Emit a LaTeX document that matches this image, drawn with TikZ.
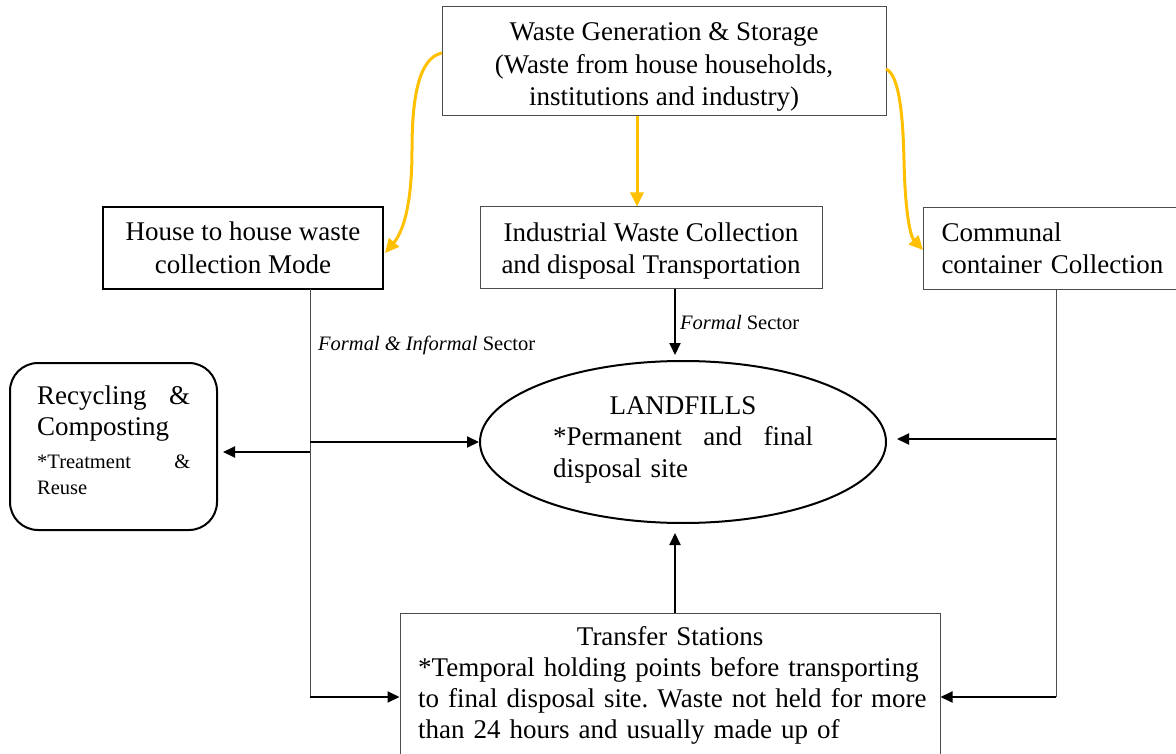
\documentclass[tikz,border=0pt]{standalone}
\usepackage{fontspec}
\setmainfont{Liberation Serif}
\usetikzlibrary{arrows.meta,shapes.geometric}
\definecolor{gold}{HTML}{FFC000}
\frenchspacing
\tikzset{
  bigf/.style={font=\fontsize{27}{32.5}\selectfont},
  smf/.style={font=\fontsize{20.5}{25}\selectfont},
  box/.style={draw=black!70, line width=1pt, bigf, inner sep=0pt, align=center},
  txt/.style={bigf, inner sep=0pt, align=center},
  thinline/.style={draw=black!70, line width=1pt},
  arr/.style={draw=black, line width=2pt, -{Triangle[length=12pt,width=11pt]}},
  yarr/.style={draw=gold, line width=3pt, -{Triangle[length=14pt,width=13pt]}},
}
\begin{document}
\begin{tikzpicture}[x=1pt,y=-1pt]
\path[use as bounding box] (0,0) rectangle (1176,754);

% boxes
\node[box, minimum width=444, minimum height=109] (gen) at (664,61.5) {};
\node[txt] (gent) at (664,67) {Waste Generation \& Storage\\(Waste from house households,\\institutions and industry)};
\node[box, draw=black, line width=2pt, minimum width=280, minimum height=82] (house) at (243,248)
  {House to house waste\\collection Mode};
\node[box, minimum width=342, minimum height=82] (ind) at (651,248) {};
\node[txt] (indt) at (651,251) {Industrial Waste Collection\\and disposal Transportation};
\node[box, anchor=north west, minimum height=82, text width=234, inner xsep=18, align=left] (comm) at (923,207)
  {Communal\\container Collection};

% recycling
\node[draw=black, line width=2pt, rounded corners=28pt, minimum width=207, minimum height=167, inner sep=0pt] (rec) at (113.5,446.5) {};
\node[anchor=north west, text width=153, inner sep=0pt, align=left] (rect) at (37,385.5)
  {{\fontsize{27}{31}\selectfont \leavevmode\hbox to 153pt{Recycling\hfill\&}\\Composting\par}\vspace{7pt}%
   {\fontsize{20.5}{26}\selectfont \leavevmode\hbox to 153pt{*Treatment\hfill\&}\\Reuse\par}};

% landfills
\node[ellipse, draw=black, line width=2pt, minimum width=406, minimum height=162, inner sep=0pt] (land) at (683,442) {};
\node[text width=260, inner sep=0pt, align=left, font=\fontsize{27}{31.5}\selectfont] (landt) at (683,439.5)
  {\leavevmode\hbox to 260pt{\hfill LANDFILLS\hfill}\\\leavevmode\hbox to 260pt{*Permanent\hfill and\hfill final}\\disposal site};

% transfer
\node[box, anchor=north, minimum width=540, minimum height=170] (trans) at (670,613) {};
\node[anchor=north west, text width=520, inner sep=0pt, align=left, font=\fontsize{27}{31}\selectfont] (transt) at (418,626.5)
  {\leavevmode\hbox to 504pt{\hfill Transfer Stations\hfill}\\{*}Temporal holding points before transporting\\to final disposal site. Waste not held for more\\than 24 hours and usually made up of};

% labels
\node[smf, anchor=west, inner sep=0pt] (lab1) at (318,345) {\textit{Formal \& Informal} Sector};
\node[smf, anchor=west, inner sep=0pt] (lab2) at (680,322) {\textit{Formal} Sector};

% coordinates
\coordinate (h1) at (310,289);
\coordinate (h2) at (310,697);
\coordinate (h3) at (310,442);
\coordinate (h4) at (310,452);
\coordinate (i1) at (675,289);
\coordinate (t1) at (675,613);
\coordinate (c1) at (1056,289);
\coordinate (c2) at (1056,697);
\coordinate (c3) at (1056,439);
\coordinate (g1) at (442,53);
\coordinate (g2) at (886,69);
\coordinate (g3) at (637,116);
\coordinate (hh) at (385,253);
\coordinate (cc) at (923,250);

% black connectors
\draw[thinline] (h1) -- (h2);
\draw[arr] (h2) -- (trans.west |- h2);
\draw[arr] (h3) -- (land.west);
\draw[arr, shorten >=5pt] (h4) -- (rec.east |- h4);
\draw[arr, shorten >=5pt] (i1) -- (land.north -| i1);
\draw[arr, shorten >=9pt] (t1) -- (land.south -| t1);
\draw[thinline] (c1) -- (c2);
\draw[arr, shorten >=10pt] (c3) -- (land.east |- c3);
\draw[arr] (c2) -- (trans.east |- c2);

% yellow connectors
\draw[yarr] (g1) .. controls (418,58) and (412,100) .. (412,150) .. controls (412,205) and (403,232) .. (hh);
\draw[yarr] (g3) -- (ind.north -| g3);
\draw[yarr] (g2) .. controls (900,75) and (903,120) .. (904,160) .. controls (905,210) and (910,236) .. (cc);
\end{tikzpicture}
\end{document}
